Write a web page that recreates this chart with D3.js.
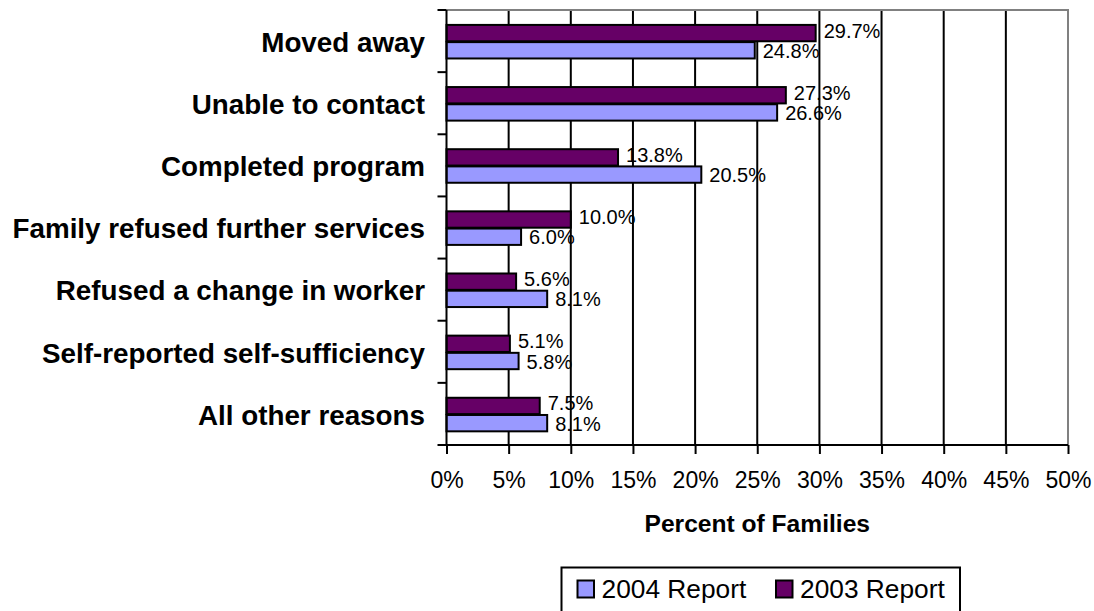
<!DOCTYPE html>
<html>
<head>
<meta charset="utf-8">
<script src="https://cdn.jsdelivr.net/npm/d3@7"></script>
<style>
  html, body { margin: 0; padding: 0; background: #fff; }
  svg { display: block; font-family: "Liberation Sans", Arial, sans-serif; }
</style>
</head>
<body>
<svg id="chart" width="1094" height="611"></svg>
<script>
// Reasons families left the program, percent of families per report year
const categories = [
  "Moved away",
  "Unable to contact",
  "Completed program",
  "Family refused further services",
  "Refused a change in worker",
  "Self-reported self-sufficiency",
  "All other reasons"
];
const report2003 = [29.7, 27.3, 13.8, 10.0, 5.6, 5.1, 7.5];
const report2004 = [24.8, 26.6, 20.5, 6.0, 8.1, 5.8, 8.1];
const seriesNames = ["2003 Report", "2004 Report"];
const xTicks = [0, 5, 10, 15, 20, 25, 30, 35, 40, 45, 50];
const axisTitle = "Percent of Families";

const colors = { "2003 Report": "#660066", "2004 Report": "#9999ff" };

const svg = d3.select("#chart");
const plot = { left: 446.5, right: 1068, top: 10, bottom: 445 };

const x = d3.scaleLinear().domain([0, 50]).range([plot.left, plot.right]);
const y = d3.scaleBand().domain(categories).range([plot.top, plot.bottom]);
const bw = y.bandwidth();
const sub = d3.scaleBand().domain(seriesNames)
  .range([bw * 0.24, bw * 0.78]).paddingInner(0.05);

// Vertical gridlines
svg.append("g").selectAll("line")
  .data(xTicks.filter(t => t > 0 && t < 50))
  .join("line")
  .attr("x1", d => x(d)).attr("x2", d => x(d))
  .attr("y1", plot.top).attr("y2", plot.bottom)
  .attr("stroke", "#000").attr("stroke-width", 2);

// Plot frame: top and right edges in grey
svg.append("path")
  .attr("d", `M${plot.left},${plot.top}H${x(50)}V${plot.bottom}`)
  .attr("fill", "none").attr("stroke", "#808080").attr("stroke-width", 2);

// Bars
const rows = categories.map((c, i) => ({
  cat: c,
  vals: [
    { s: "2003 Report", v: report2003[i] },
    { s: "2004 Report", v: report2004[i] }
  ]
}));

const groups = svg.append("g").selectAll("g")
  .data(rows).join("g")
  .attr("transform", d => `translate(0,${y(d.cat)})`);

groups.selectAll("rect")
  .data(d => d.vals).join("rect")
  .attr("x", x(0))
  .attr("y", d => sub(d.s))
  .attr("width", d => x(d.v) - x(0))
  .attr("height", sub.bandwidth())
  .attr("fill", d => colors[d.s])
  .attr("stroke", "#000").attr("stroke-width", 2);

groups.selectAll("text")
  .data(d => d.vals).join("text")
  .attr("x", d => x(d.v) + 8)
  .attr("y", d => sub(d.s) + sub.bandwidth() / 2 + (d.s === "2003 Report" ? -2.5 : 0.5))
  .attr("dy", "0.35em")
  .attr("font-size", 20)
  .attr("fill", "#000")
  .text(d => d.v.toFixed(1) + "%");

// X axis
const xAxis = d3.axisBottom(x)
  .tickValues(xTicks)
  .tickSize(9)
  .tickPadding(0)
  .tickFormat(d => d + "%");
const gx = svg.append("g").attr("transform", `translate(0,${plot.bottom})`).call(xAxis);
gx.select(".domain").attr("stroke", "#000").attr("stroke-width", 2)
  .attr("d", `M${plot.left},0H${x(50)}`);
gx.selectAll(".tick line").attr("stroke", "#000").attr("stroke-width", 2);
gx.selectAll(".tick text")
  .attr("font-size", 23).attr("font-family", "Liberation Sans, Arial, sans-serif")
  .attr("fill", "#000").attr("dy", null).attr("y", 42.5);

// Y axis: ticks on category boundaries, labels centred in each band
const bounds = categories.map(c => y(c)).concat([plot.bottom]);
const gy = svg.append("g");
gy.append("line")
  .attr("x1", plot.left).attr("x2", plot.left)
  .attr("y1", plot.top).attr("y2", plot.bottom)
  .attr("stroke", "#000").attr("stroke-width", 2);
gy.selectAll("line.tick").data(bounds).join("line")
  .attr("class", "tick")
  .attr("x1", plot.left - 9).attr("x2", plot.left)
  .attr("y1", d => d).attr("y2", d => d)
  .attr("stroke", "#000").attr("stroke-width", 2);
gy.selectAll("text").data(categories).join("text")
  .attr("x", 425)
  .attr("y", d => y(d) + bw / 2 + 1)
  .attr("dy", "0.35em")
  .attr("text-anchor", "end")
  .attr("font-size", 27.8).attr("font-weight", "bold")
  .text(d => d);

// Axis title
svg.append("text")
  .attr("x", (plot.left + plot.right) / 2)
  .attr("y", 531.5)
  .attr("text-anchor", "middle")
  .attr("font-size", 24.6).attr("font-weight", "bold")
  .text(axisTitle);

// Legend
const legend = svg.append("g");
legend.append("rect")
  .attr("x", 561.5).attr("y", 567.5).attr("width", 398.5).attr("height", 60)
  .attr("fill", "#fff").attr("stroke", "#000").attr("stroke-width", 2);
const legendItems = ["2004 Report", "2003 Report"];
const legendX = [577.5, 776];
legendItems.forEach((s, i) => {
  legend.append("rect")
    .attr("x", legendX[i]).attr("y", 580.5).attr("width", 16.5).attr("height", 17)
    .attr("fill", colors[s]).attr("stroke", "#000").attr("stroke-width", 2);
  legend.append("text")
    .attr("x", legendX[i] + 24).attr("y", 597.5)
    .attr("font-size", 26.3)
    .text(s);
});
</script>
</body>
</html>
